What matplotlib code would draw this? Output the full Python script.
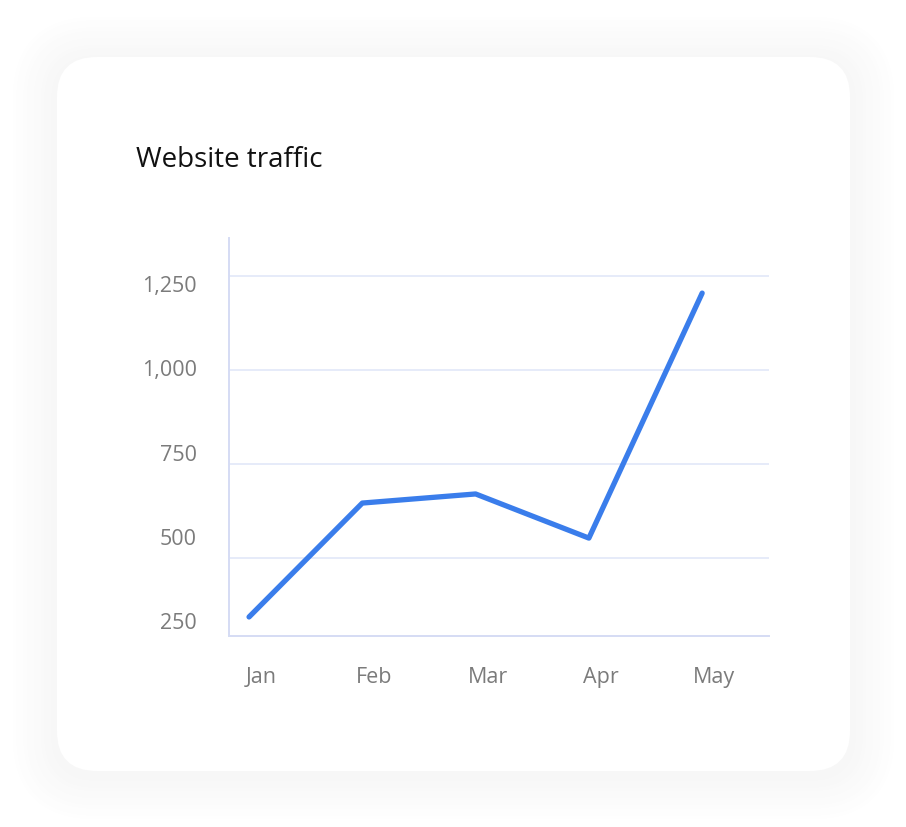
import numpy as np
import matplotlib.pyplot as plt
from matplotlib.patches import FancyBboxPatch
from matplotlib.transforms import ScaledTranslation

# data
months = ["Jan", "Feb", "Mar", "Apr", "May"]
visits = [262, 600, 627, 496, 1223]
tick_values = [250, 500, 750, 1000, 1250]
tick_labels = ["250", "500", "750", "1,000", "1,250"]
grid_values = [500, 750, 1000, 1250]

W, H = 906, 827
fig = plt.figure(figsize=(W / 100, H / 100), dpi=100)
fig.patch.set_facecolor("white")

def fx(px):
    return px / W

def fy(py):
    return 1 - py / H

# very soft shadow behind the card, drawn as stacked light-grey rings
n = 12
for i in range(n):
    grow = 44 - i * 3.5
    level = 254.5 - 7.5 * (i + 1) / n
    col = (level / 255,) * 3
    shadow = FancyBboxPatch((fx(57 - grow), fy(775 + grow)), fx(793 + 2 * grow), (714 + 2 * grow) / H,
                            boxstyle="round,pad=0,rounding_size=%f" % ((40 + grow) / W),
                            transform=fig.transFigure, facecolor=col, edgecolor="none",
                            mutation_aspect=W / H, zorder=0)
    fig.patches.append(shadow)

card = FancyBboxPatch((fx(57), fy(771)), fx(793), 714 / H,
                      boxstyle="round,pad=0,rounding_size=%f" % (40 / W),
                      transform=fig.transFigure, facecolor="white", edgecolor="none",
                      mutation_aspect=W / H, zorder=1)
fig.patches.append(card)

fig.text(fx(136), fy(160), "Website traffic", fontsize=20, family="Open Sans",
         color="#111111", va="center", ha="left", zorder=3)

# grid axis (behind)
rect = [fx(229), fy(636), fx(769) - fx(229), (636 - 238) / H]
gax = fig.add_axes(rect, zorder=2)
gax.set_facecolor("none")
gax.set_xlim(0, 1)
gax.set_ylim(292.6, 1351)
for g in grid_values:
    gax.axhline(g, color="#e2e7f8", lw=1.2)
gax.set_xticks([])
gax.set_yticks([])
for s in gax.spines.values():
    s.set_visible(False)

ax = fig.add_axes(rect, zorder=3)
ax.set_facecolor("none")
x = np.arange(len(months))
ax.plot(x, visits, color="#3a7deb", lw=3.8, solid_capstyle="round", solid_joinstyle="round")
ax.set_xlim(-0.177, 4.59)
ax.set_ylim(205.5, 1386.5)

ax.set_yticks(tick_values)
ax.set_yticklabels(tick_labels)
ax.set_xticks(x)
ax.set_xticklabels(months)
ax.tick_params(axis="both", length=0, labelcolor="#7b7b7b", labelsize=15.5)
ax.tick_params(axis="y", pad=23)
ax.tick_params(axis="x", pad=22)
for lab in ax.get_xticklabels() + ax.get_yticklabels():
    lab.set_family("Open Sans")
for lab in ax.get_xticklabels():
    lab.set_transform(lab.get_transform() + ScaledTranslation(0.12, 0, fig.dpi_scale_trans))

for side in ["top", "right"]:
    ax.spines[side].set_visible(False)
for side in ["left", "bottom"]:
    ax.spines[side].set_color("#d5dcf4")
    ax.spines[side].set_linewidth(1.4)

fig.savefig("out.png", dpi=100, facecolor="white")
